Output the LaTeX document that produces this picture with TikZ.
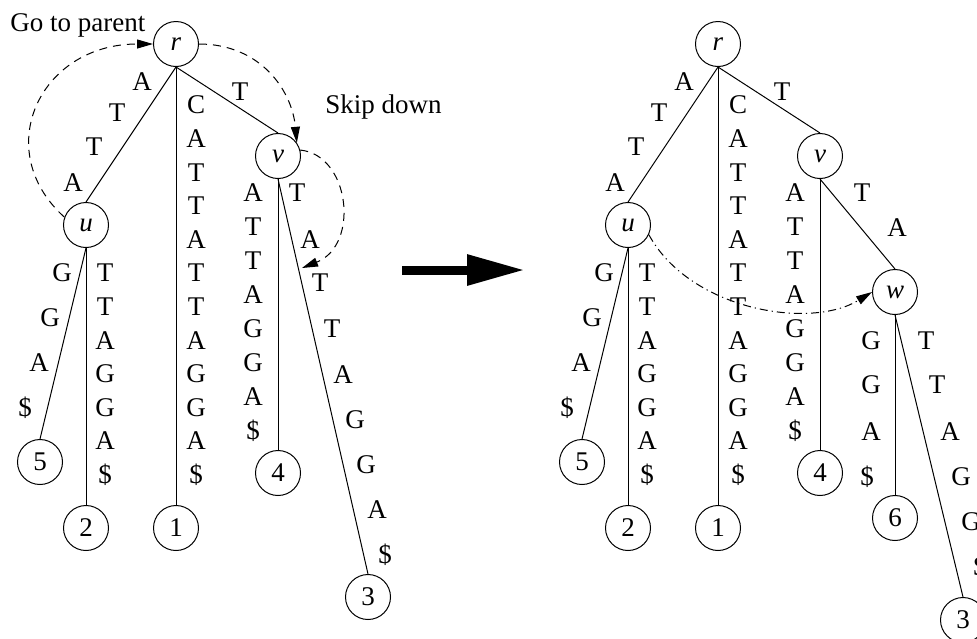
\documentclass[tikz,border=0pt]{standalone}
\usepackage{fontspec}
\setmainfont{Liberation Serif}
\usetikzlibrary{arrows.meta}
\begin{document}
\begin{tikzpicture}[x=0.5pt,y=-0.5pt,
  every node/.style={font=\fontsize{13.5}{16}\selectfont},
  tnode/.style={draw,circle,line width=0.5pt,inner sep=0pt,minimum size=22.5pt},
  lab/.style={inner sep=0pt},
  edge/.style={line width=0.5pt},
  hop/.style={line width=0.5pt,dash pattern=on 4pt off 3pt,-{Triangle[length=8pt,width=4.5pt]}},
  jump/.style={line width=0.5pt,dash pattern=on 4pt off 2pt on 0.6pt off 2pt,-{Triangle[length=8pt,width=4.5pt]}},
  bigarrow/.style={line width=4.5pt,-{Triangle[length=29pt,width=14.5pt]}}]
\useasboundingbox (0,0) rectangle (977,638);
\clip (0,0) rectangle (977,638);

% shared part of both trees
\foreach \o/\p in {0/L,542/R}{
  \node[tnode] (\p-r) at ({176+\o},44) {\textit{r}};
  \node[tnode] (\p-u) at ({86+\o},225) {\textit{u}};
  \node[tnode] (\p-v) at ({278+\o},156) {\textit{v}};
  \node[tnode] (\p-5) at ({40+\o},462) {5};
  \node[tnode] (\p-2) at ({86+\o},528) {2};
  \node[tnode] (\p-1) at ({176+\o},528) {1};
  \node[tnode] (\p-4) at ({278+\o},473) {4};
  \draw[edge] (\p-r.south) -- (\p-u.north);
  \draw[edge] (\p-r.south) -- (\p-1.north);
  \draw[edge] (\p-r.south) -- (\p-v.north);
  \draw[edge] (\p-u.south) -- (\p-5.north);
  \draw[edge] (\p-u.south) -- (\p-2.north);
  \draw[edge] (\p-v.south) -- (\p-4.north);
  \foreach \t/\x/\y [count=\i] in {A/142/82,T/117/113,T/94/147,A/73/183}
    \node[lab] (\p-ru\i) at ({\x+\o},\y) {\t};
  \node[lab] (\p-rv1) at ({240+\o},92) {T};
  \foreach \t/\x/\y [count=\i] in {G/62/273,G/50/318,A/39/363,\$/25/408}
    \node[lab] (\p-u5\i) at ({\x+\o},\y) {\t};
  \foreach \t [count=\i] in {C,A,T,T,A,T,T,A,G,G,A,\$}
    \node[lab] (\p-r1\i) at ({196+\o},{71.4+33.6*\i}) {\t};
  \foreach \t [count=\i] in {T,T,A,G,G,A,\$}
    \node[lab] (\p-u2\i) at ({105+\o},{239.4+33.6*\i}) {\t};
  \foreach \t [count=\i] in {A,T,T,A,G,G,A,\$}
    \node[lab] (\p-v4\i) at ({253+\o},{159.1+33.9*\i}) {\t};
}

% left tree only
\node[tnode] (L-3) at (368,597) {3};
\draw[edge] (L-v.south) -- (L-3.north);
\foreach \t/\x/\y [count=\i] in {T/297/193,A/310/240,T/320/283,T/332/329,A/343/375,G/355/420,G/366/465,A/377/510,\$/385/555}
  \node[lab] (L-v3\i) at (\x,\y) {\t};
\node[anchor=base west,inner sep=0pt] (gtp) at (10,31) {Go to parent};
\node[anchor=base west,inner sep=0pt] (sd) at (325,113) {Skip down};
\coordinate (skip) at (302,268);
\draw[hop] (L-u.160) .. controls (-10,150) and (40,44) .. (L-r.west);
\draw[hop] (L-r.east) .. controls (260,44) and (292,90) .. (L-v.35);
\draw[hop] (L-v.15) .. controls (350,155) and (360,245) .. (skip);

% big arrow
\coordinate (a0) at (402,270);
\coordinate (a1) at (525,270);
\draw[bigarrow] (a0) -- (a1);

% right tree only
\node[tnode] (R-w) at (895,292) {\textit{w}};
\node[tnode] (R-6) at (895,518) {6};
\node[tnode] (R-3) at (963,620) {3};
\draw[edge] (R-v.south) -- (R-w.north);
\draw[edge] (R-w.south) -- (R-6.north);
\draw[edge] (R-w.south) -- (R-3.north);
\node[lab] (R-vw1) at (862,193) {T};
\node[lab] (R-vw2) at (897,228) {A};
\foreach \t/\x/\y [count=\i] in {G/871/341,G/871/385,A/871/432,\$/867/477}
  \node[lab] (R-w6\i) at (\x,\y) {\t};
\foreach \t/\x/\y [count=\i] in {T/926/341,T/937/385,A/950/432,G/961/477,G/971/522,\$/980/567}
  \node[lab] (R-w3\i) at (\x,\y) {\t};
\draw[jump] (R-u.335) .. controls (690,310) and (810,330) .. (R-w.west);
\end{tikzpicture}
\end{document}
